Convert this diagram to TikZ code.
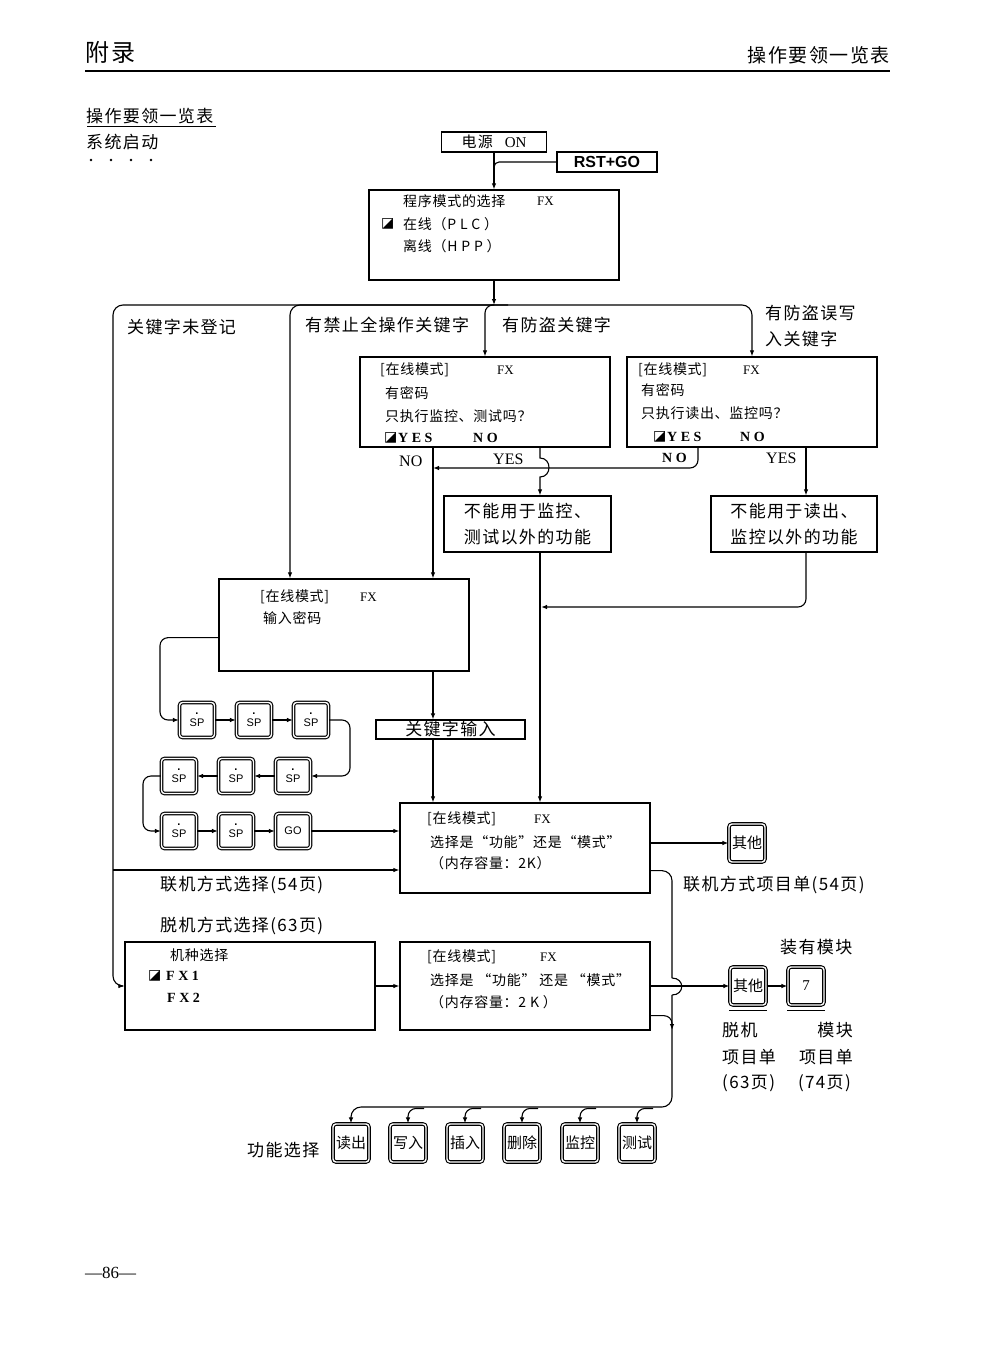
\documentclass[tikz,border=0pt]{standalone}
\usepackage{fontspec}
\setmainfont{Noto Sans CJK SC}
\newfontfamily\cjkL[LetterSpace=8]{Noto Sans CJK SC}
\newfontfamily\cjkB[LetterSpace=5]{Noto Sans CJK SC}
\newfontfamily\lat{Liberation Serif}
\newfontfamily\latsans{Liberation Sans}
\newfontfamily\sym{DejaVu Sans}
\usetikzlibrary{arrows.meta,calc}
\tikzset{
  ln/.style={line width=1.1pt},
  arr/.style={line width=1.1pt,-{Latex[length=6pt,width=4.5pt]}},
  box/.style={draw,line width=1.3pt,inner sep=0pt},
  lbl/.style={inner sep=0pt,anchor=west,font=\cjkL\fontsize{17}{17}\selectfont},
  btx/.style={inner sep=0pt,anchor=west,font=\cjkB\fontsize{14}{14}\selectfont},
  fx/.style={inner sep=0pt,anchor=west,font=\lat\fontsize{13}{13}\selectfont},
  yn/.style={inner sep=0pt,anchor=west,font=\lat\bfseries\fontsize{14}{14}\selectfont},
  sq/.style={inner sep=0pt,anchor=west,font=\sym\fontsize{14}{14}\selectfont},
  key/.style={draw,line width=1.1pt,double=white,double distance=1.4pt,rounded corners=3pt,
     minimum width=35pt,minimum height=35pt,inner sep=0pt},
  fkey/.style={key,minimum width=36pt,minimum height=38pt,font=\fontsize{15}{15}\selectfont},
  sp/.style={key,font=\latsans\fontsize{11}{11}\selectfont}
}
\newcommand{\spk}{\shortstack{\textbf{.}\\[1pt]SP}}
\begin{document}
\begin{tikzpicture}[x=1pt,y=-1pt]
\useasboundingbox (0,0) rectangle (992,1346);
\fill[white] (0,0) rectangle (992,1346);

% header
\node[anchor=west,inner sep=0pt,font=\cjkL\fontsize{24}{24}\selectfont] (hdrL) at (85,52) {附录};
\node[anchor=east,inner sep=0pt,font=\cjkL\fontsize{19}{19}\selectfont] (hdrR) at (890,55) {操作要领一览表};
\draw[line width=2.5pt] (85,71) -- (890,71);
\node[lbl] (title) at (86,116) {操作要领一览表};
\draw[line width=0.9pt] (87,126) -- (216,126);
\node[lbl] (sys) at (86,142) {系统启动};
\foreach \x in {91,111,131,151} \fill (\x,160) circle (1.3);

% top
\node[box,line width=1.1pt,minimum width=105pt,minimum height=20pt] (power) at (494,142)
  {\cjkL\fontsize{15}{15}\selectfont 电源\hspace{12pt}{\lat ON}};
\node[box,minimum width=100pt,minimum height=20pt,font=\latsans\bfseries\fontsize{16}{16}\selectfont] (rst) at (607,162) {RST+GO};
\node[box,minimum width=250pt,minimum height=90pt] (prog) at (494,235) {};
\node[btx] (p1) at (403,201) {程序模式的选择};
\node[fx] (p1b) at (537,201) {FX};
\node[sq] (p2a) at (381,224) {◪};
\node[btx] (p2) at (403,224) {在线（P L C ）};
\node[btx] (p3) at (403,246) {离线（H P P ）};

\draw[arr] (power.south) -- (prog.north);
\draw[ln,rounded corners=5pt] (rst.west) -| ($(prog.north)+(0,-12)$);

\coordinate (bus) at (494,305);
\draw[arr] (prog.south) -- (bus);

% branch labels
\node[lbl] (l1) at (127,327) {关键字未登记};
\node[lbl] (l2) at (305,325) {有禁止全操作关键字};
\node[lbl] (l3) at (502,325) {有防盗关键字};
\node[lbl] (l4) at (765,313) {有防盗误写};
\node[lbl] (l5) at (765,339) {入关键字};

% box1
\node[box,minimum width=250pt,minimum height=90pt] (box1) at (485,402) {};
\node[btx] (b1a) at (380,370) {[在线模式]};
\node[fx] (b1b) at (497,370) {FX};
\node[btx] (b1c) at (385,393) {有密码};
\node[btx] (b1d) at (385,416) {只执行监控、测试吗？};
\node[sq] (b1e) at (384,438) {◪};
\node[yn] (b1f) at (398,438) {Y E S};
\node[yn] (b1g) at (473,438) {N O};

% box2
\node[box,minimum width=250pt,minimum height=90pt] (box2) at (752,402) {};
\node[btx] (b2a) at (638,370) {[在线模式]};
\node[fx] (b2b) at (743,370) {FX};
\node[btx] (b2c) at (641,390) {有密码};
\node[btx] (b2d) at (641,413) {只执行读出、监控吗？};
\node[sq] (b2e) at (653,437) {◪};
\node[yn] (b2f) at (667,437) {Y E S};
\node[yn] (b2g) at (740,437) {N O};

% yes/no labels
\node[inner sep=0pt,anchor=west,font=\lat\fontsize{16}{16}\selectfont] (no1) at (399,461) {NO};
\node[inner sep=0pt,anchor=west,font=\lat\fontsize{16}{16}\selectfont] (yes1) at (493,459) {YES};
\node[yn] (no2) at (662,458) {N O};
\node[inner sep=0pt,anchor=west,font=\lat\fontsize{16}{16}\selectfont] (yes2) at (766,458) {YES};

% box3, box4
\node[box,minimum width=167pt,minimum height=56pt,align=center,font=\cjkL\fontsize{17}{26}\selectfont] (box3) at (527.5,524) {不能用于监控、\\测试以外的功能};
\node[box,minimum width=166pt,minimum height=56pt,align=center,font=\cjkL\fontsize{17}{26}\selectfont] (box4) at (794,524) {不能用于读出、\\监控以外的功能};

% password box
\node[box,minimum width=250pt,minimum height=92pt] (pw) at (344,625) {};
\node[btx] (pwa) at (260,597) {[在线模式]};
\node[fx] (pwb) at (360,597) {FX};
\node[btx] (pwc) at (263,618) {输入密码};

% keyword box
\node[box,line width=1.1pt,minimum width=149pt,minimum height=19pt,font=\cjkL\fontsize{17}{17}\selectfont] (kw) at (450.5,729.5) {关键字输入};

% keys
\node[sp] (k1) at (197,720) {\spk};
\node[sp] (k2) at (254,720) {\spk};
\node[sp] (k3) at (311,720) {\spk};
\node[sp] (k4) at (293,776) {\spk};
\node[sp] (k5) at (236,776) {\spk};
\node[sp] (k6) at (179,776) {\spk};
\node[sp] (k7) at (179,831) {\spk};
\node[sp] (k8) at (236,831) {\spk};
\node[sp] (go) at (293,831) {GO};

% online box
\node[box,minimum width=250pt,minimum height=90pt] (online) at (525,848) {};
\node[btx] (ona) at (427,819) {[在线模式]};
\node[fx] (onb) at (534,819) {FX};
\node[btx] (onc) at (430,842) {选择是“功能”还是“模式”};
\node[btx] (ond) at (430,863) {（内存容量：2K）};
\node[fkey] (qt1) at (747,843) {其他};

\node[lbl] (l6) at (160,885) {联机方式选择(54页)};
\node[lbl] (l7) at (683,885) {联机方式项目单(54页)};
\node[lbl] (l8) at (160,926) {脱机方式选择(63页)};

% machine box
\node[box,minimum width=250pt,minimum height=88pt] (mach) at (250,986) {};
\node[btx] (ma) at (170,955) {机种选择};
\node[sq] (mb) at (148,976) {◪};
\node[yn] (mc) at (166,976) {F X 1};
\node[yn] (md) at (167,998) {F X 2};

% offline box
\node[box,minimum width=250pt,minimum height=88pt] (offline) at (525,986) {};
\node[btx] (ofa) at (427,957) {[在线模式]};
\node[fx] (ofb) at (540,957) {FX};
\node[btx] (ofc) at (430,980) {选择是 “功能” 还是 “模式”};
\node[btx] (ofd) at (430,1002) {（内存容量：2 K ）};

\node[fkey] (qt2) at (748,986) {其他};
\node[fkey,font=\lat\fontsize{15}{15}\selectfont] (seven) at (806,986) {7};
\draw[line width=1.1pt] ($(qt2.south west)+(0,5)$) -- ($(qt2.south east)+(0,5)$);
\draw[line width=1.1pt] ($(seven.south west)+(0,5)$) -- ($(seven.south east)+(0,5)$);
\node[lbl] (l9) at (780,947) {装有模块};
\node[lbl] (l10) at (722,1030) {脱机};
\node[lbl,anchor=east] (l11) at (853,1030) {模块};
\node[lbl] (l12) at (722,1057) {项目单};
\node[lbl,anchor=east] (l13) at (853,1057) {项目单};
\node[lbl] (l14) at (722,1083) {(63页)};
\node[lbl,anchor=east] (l15) at (851,1083) {(74页)};

% function keys
\node[lbl] (l16) at (247,1150) {功能选择};
\node[fkey] (f1) at (351,1143) {读出};
\node[fkey] (f2) at (408,1143) {写入};
\node[fkey] (f3) at (465,1143) {插入};
\node[fkey] (f4) at (522,1143) {删除};
\node[fkey] (f5) at (580,1143) {监控};
\node[fkey] (f6) at (637,1143) {测试};

\node[inner sep=0pt,anchor=west,font=\lat\fontsize{17}{17}\selectfont] (pg) at (85,1273) {—86—};

% ---- connectors ----
\coordinate (xb2) at (290,305);
\coordinate (xno) at (433,0);
\coordinate (xyes) at (540,0);
\coordinate (xno2) at (698,0);
\coordinate (xy2) at (806,0);
\coordinate (jno) at (433,468);
\coordinate (jm) at (541,607);
\coordinate (lj) at (113,870);

\draw[arr,rounded corners=10pt] (bus) -| (113,986) -- (mach.west);
\draw[arr,rounded corners=10pt] (bus) -| (xb2 |- pw.north);
\draw[arr,rounded corners=8pt] ($(bus)+(14,0)$) -| (box1.north);
\draw[arr,rounded corners=10pt] (bus) -| (box2.north);

\draw[arr] (box1.south -| xno) -- (pw.north -| xno);
\draw[arr] (box1.south -| xyes) -- (540,458) .. controls (552,458) and (552,477) .. (540,477) -- (box3.north -| xyes);
\draw[arr,rounded corners=8pt] (box2.south -| xno2) |- (jno);
\draw[arr] (box2.south -| xy2) -- (box4.north -| xy2);
\draw[arr] (box3.south -| xyes) -- (online.north -| xyes);
\draw[arr,rounded corners=8pt] (box4.south -| xy2) |- (jm);

\draw[arr] (pw.south -| xno) -- (kw.north -| xno);
\draw[arr] (kw.south -| xno) -- (online.north -| xno);
\draw[arr,rounded corners=8pt] ($(pw.south west)+(0,-34)$) -| (160,720) -- (k1.west);
\draw[arr] (k1.east) -- (k2.west);
\draw[arr] (k2.east) -- (k3.west);
\draw[arr,rounded corners=8pt] (k3.east) -| (350,776) -- (k4.east);
\draw[arr] (k4.west) -- (k5.east);
\draw[arr] (k5.west) -- (k6.east);
\draw[arr,rounded corners=8pt] (k6.west) -| (143,831) -- (k7.west);
\draw[arr] (k7.east) -- (k8.west);
\draw[arr] (k8.east) -- (go.west);
\draw[arr] (go.east) -- (online.west |- go.east);
\draw[arr] (lj) -- (online.west |- lj);

\draw[arr] (online.east |- qt1.west) -- (qt1.west);
\draw[arr] (mach.east) -- (offline.west);
\draw[arr] (offline.east |- qt2.west) -- (qt2.west);
\draw[arr] (qt2.east) -- (seven.west);

\draw[ln,rounded corners=10pt] ($(online.south east)+(0,-23)$) -| (672,978);
\draw[ln] (672,978) .. controls (685,978) and (685,995) .. (672,995);
\draw[arr,rounded corners=10pt] (672,995) -- (672,1107) -| (f1.north);
\draw[arr,rounded corners=8pt] ($(offline.south east)+(0,-15)$) -| (672,1030);
\foreach \k in {f2,f3,f4,f5,f6}
  \draw[arr,rounded corners=8pt] ($(\k.north)+(16,-15)$) -| (\k.north);
\end{tikzpicture}
\end{document}
